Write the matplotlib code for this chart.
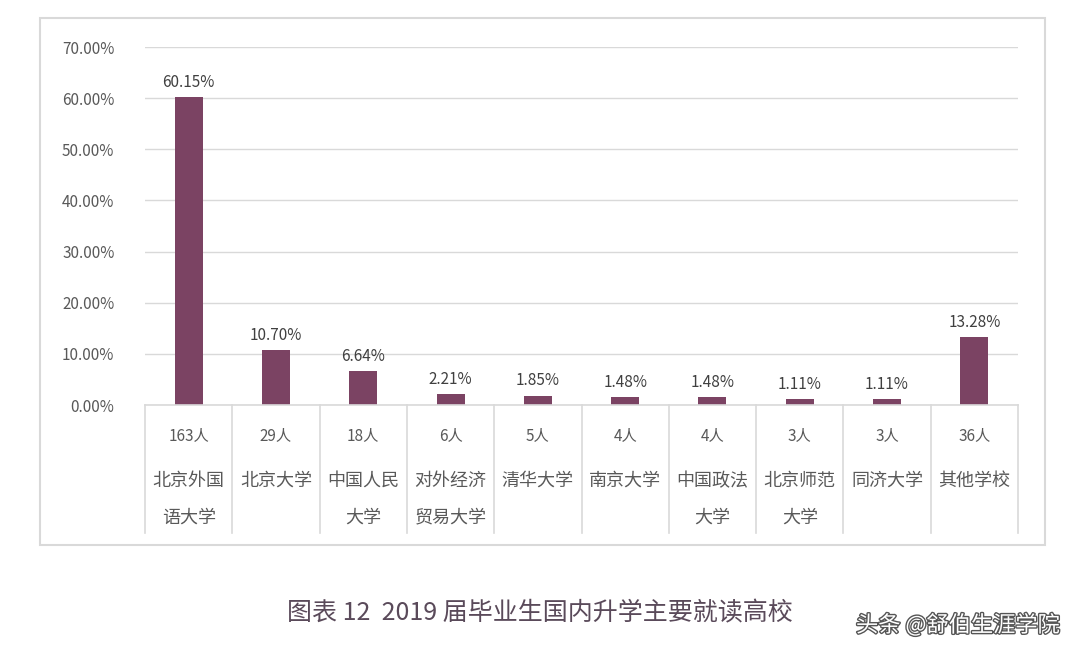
import matplotlib.pyplot as plt
import matplotlib.patheffects as pe
from matplotlib.patches import Rectangle

plt.rcParams['font.family'] = ['Noto Sans CJK SC', 'DejaVu Sans']

schools = ['北京外国\n语大学', '北京大学', '中国人民\n大学', '对外经济\n贸易大学', '清华大学',
           '南京大学', '中国政法\n大学', '北京师范\n大学', '同济大学', '其他学校']
counts = [163, 29, 18, 6, 5, 4, 4, 3, 3, 36]
shares = [60.15, 10.70, 6.64, 2.21, 1.85, 1.48, 1.48, 1.11, 1.11, 13.28]

W, H = 1080, 658
fig = plt.figure(figsize=(W / 100, H / 100), dpi=100)

# outer frame
fig.patches.append(Rectangle((40 / W, 1 - 545 / H), 1005 / W, 527 / H, transform=fig.transFigure,
                             fill=False, ec='#d9d9d9', lw=1.5))

ax = fig.add_axes([145 / W, 1 - 405 / H, 873 / W, 358 / H])
n = len(schools)
ax.bar(range(n), shares, width=0.32, color='#7b4363', zorder=3)
for i, v in enumerate(shares):
    ax.text(i, v + 1.2, f'{v:.2f}%', ha='center', va='bottom', fontsize=11, color='#404040')
ax.set_xlim(-0.5, n - 0.5)
ax.set_ylim(0, 70)
ax.set_yticks(range(0, 71, 10))
ax.set_yticklabels([f'{t:.2f}%' for t in range(0, 71, 10)], fontsize=11, color='#595959')
ax.grid(axis='y', color='#d9d9d9', lw=1, zorder=0)
for s in ax.spines.values():
    s.set_visible(False)
ax.tick_params(length=0, pad=22)
ax.set_xticks([])

# table below the axis
slot = 873 / n
for i in range(n + 1):
    x = (145 + i * slot) / W
    fig.add_artist(plt.Line2D([x, x], [1 - 405 / H, 1 - 533 / H], color='#d9d9d9', lw=1.2))
fig.add_artist(plt.Line2D([145 / W, 1018 / W], [1 - 405 / H, 1 - 405 / H], color='#d9d9d9', lw=1.2))
for i in range(n):
    xc = (145 + (i + 0.5) * slot) / W
    fig.text(xc, 1 - 436 / H, f'{counts[i]}人', ha='center', va='center', fontsize=11, color='#595959')
    fig.text(xc, 1 - 472 / H, schools[i], ha='center', va='top', fontsize=13, color='#595959',
             linespacing=2.3)

fig.text(0.5, 1 - 613 / H, '图表 12  2019 届毕业生国内升学主要就读高校', ha='center', va='center',
         fontsize=18, color='#5a4a5a')
fig.text(1060 / W, 1 - 625 / H, '头条 @舒伯生涯学院', ha='right', va='center', fontsize=16, color='white',
         path_effects=[pe.withStroke(linewidth=2, foreground='#555555')])

fig.savefig('out.png', dpi=100)
